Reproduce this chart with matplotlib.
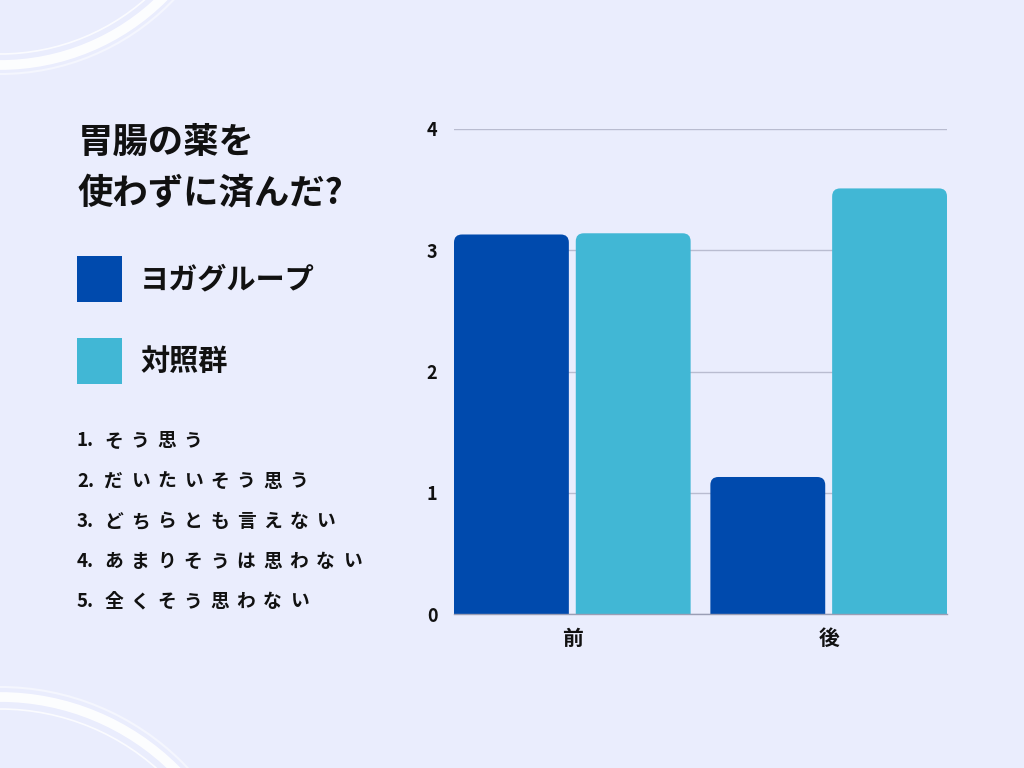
import matplotlib
matplotlib.use('Agg')
import matplotlib.pyplot as plt
from matplotlib.patches import FancyBboxPatch, Circle, Rectangle
import numpy as np

plt.rcParams['font.family'] = ['Noto Sans CJK JP', 'DejaVu Sans']

# ---- data ----
title_lines = ['胃腸の薬を', '使わずに済んだ?']
categories = ['前', '後']
series_names = ['ヨガグループ', '対照群']
yoga_values = [3.13, 1.13]
control_values = [3.14, 3.51]
y_ticks = [0, 1, 2, 3, 4]
notes = ['1. そう思う', '2. だいたいそう思う', '3. どちらとも言えない',
         '4. あまりそうは思わない', '5. 全くそう思わない']

BG = '#EAEDFD'
C_YOGA = '#004AAD'
C_CTRL = '#41B7D5'
TXT = '#111111'

W, H = 1024, 768
fig = plt.figure(figsize=(W / 100, H / 100), dpi=100, facecolor=BG)

# background / decoration layer in pixel coordinates (y down)
bg = fig.add_axes([0, 0, 1, 1], zorder=0)
bg.set_xlim(0, W)
bg.set_ylim(H, 0)
bg.axis('off')

for (cx, cy, r, lw, a) in [(0, -166, 231, 7.0, 0.9), (0, -166, 220, 1.2, 0.8),
                           (0, -166, 240, 1.5, 0.5),
                           (0, 945, 248, 7.0, 0.9), (0, 945, 236, 1.2, 0.8),
                           (0, 945, 258, 1.5, 0.5)]:
    bg.add_patch(Circle((cx, cy), r, fill=False, ec='white', lw=lw, alpha=a))

# title
bg.text(78, 142, title_lines[0], fontsize=25.5, fontweight='bold', color=TXT,
        ha='left', va='center')
bg.text(78, 193, title_lines[1], fontsize=25.5, fontweight='bold', color=TXT,
        ha='left', va='center')

# legend
for i, (name, col) in enumerate(zip(series_names, [C_YOGA, C_CTRL])):
    y0 = 256 + i * 82
    bg.add_patch(Rectangle((77, y0), 45, 46, fc=col, ec='none'))
    bg.text(140, y0 + 23, name, fontsize=21, fontweight='bold', color=TXT,
            ha='left', va='center')

# notes (with wide letter spacing)
renderer = fig.canvas.get_renderer()
for i, note in enumerate(notes):
    y = 441 + i * 40.2
    prefix, rest = note.split(' ', 1)
    t = bg.text(77, y, prefix, fontsize=13.5, fontweight='bold', color=TXT,
                ha='left', va='center')
    x1 = t.get_window_extent(renderer).x1
    for j, ch in enumerate(rest):
        bg.text(x1 + 10 + j * 26.5, y, ch, fontsize=13.5, fontweight='bold',
                color=TXT, ha='left', va='center')

# ---- bar chart ----
ax_l, ax_b, ax_w, ax_h = 454, 614, 493, 485
ax = fig.add_axes([ax_l / W, (H - ax_b) / H, ax_w / W, ax_h / H], zorder=2)
ax.set_facecolor('none')

bar_w = 0.448
gap = 0.027
x = np.arange(len(categories))
off = (bar_w + gap) / 2
b1 = ax.bar(x - off, yoga_values, bar_w, color=C_YOGA)
b2 = ax.bar(x + off, control_values, bar_w, color=C_CTRL)
xl = (-off - bar_w / 2, len(categories) - 1 + off + bar_w / 2)
ax.set_xlim(*xl)
ax.set_ylim(0, 4)

# rounded top corners
r_px = 8
sx = ax_w / (xl[1] - xl[0])
sy = ax_h / 4
rs = r_px / sx
asp = sx / sy
for bars, col in ((b1, C_YOGA), (b2, C_CTRL)):
    for rect in bars:
        x0, w, h = rect.get_x(), rect.get_width(), rect.get_height()
        rect.set_visible(False)
        ax.add_patch(FancyBboxPatch((x0, -0.5), w, h + 0.5,
                                    boxstyle=f'round,pad=0,rounding_size={rs}',
                                    mutation_aspect=asp, fc=col, ec='none',
                                    zorder=2))

ax.set_yticks(y_ticks)
ax.set_yticklabels([str(v) for v in y_ticks], fontsize=13, fontweight='bold',
                   color=TXT)
ax.set_xticks(x)
ax.set_xticklabels(categories, fontsize=15, fontweight='bold', color=TXT)
ax.yaxis.grid(True, color='#B9BCD0', lw=1)
ax.set_axisbelow(True)
for s in ('left', 'right', 'top'):
    ax.spines[s].set_visible(False)
ax.spines['bottom'].set_color('#9A9EB5')
ax.spines['bottom'].set_linewidth(1)
ax.tick_params(axis='y', length=0, pad=12)
ax.tick_params(axis='x', length=0, pad=10)

fig.savefig('out.png', dpi=100, facecolor=BG)
